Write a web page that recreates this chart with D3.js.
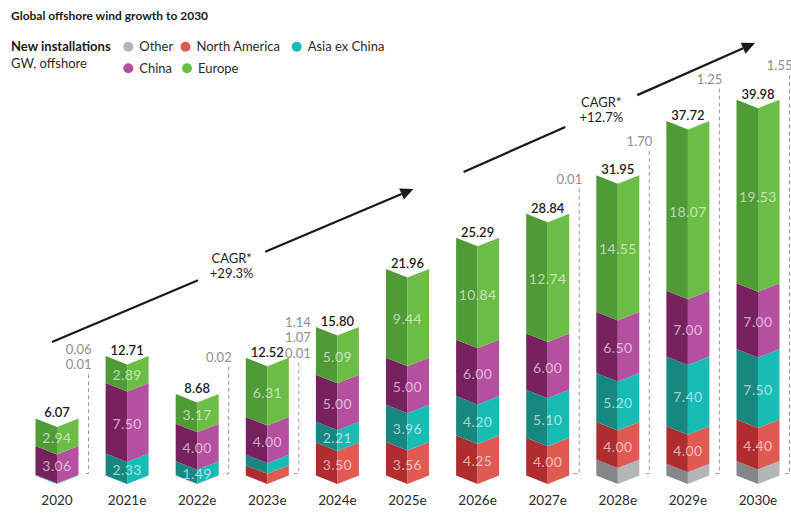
<!DOCTYPE html>
<html>
<head>
<meta charset="utf-8">
<script src="https://cdn.jsdelivr.net/npm/d3@7"></script>
<style>
  html, body { margin: 0; padding: 0; background: #ffffff; }
  svg { display: block; font-family: Lato, "Open Sans", sans-serif; }
</style>
</head>
<body>
<svg id="chart" width="791" height="513"></svg>
<script>
// New offshore wind installations, GW per year
const years = ["2020", "2021e", "2022e", "2023e", "2024e", "2025e", "2026e", "2027e", "2028e", "2029e", "2030e"];
const other        = [0,    0,    0,    0.01, 0,    0,    0,     0.01,  1.70,  1.25,  1.55];
const northAmerica = [0.01, 0,    0.02, 1.07, 3.50, 3.56, 4.25,  4.00,  4.00,  4.00,  4.40];
const asiaExChina  = [0.06, 2.33, 1.49, 1.14, 2.21, 3.96, 4.20,  5.10,  5.20,  7.40,  7.50];
const china        = [3.06, 7.50, 4.00, 4.00, 5.00, 5.00, 6.00,  6.00,  6.50,  7.00,  7.00];
const europe       = [2.94, 2.89, 3.17, 6.31, 5.09, 9.44, 10.84, 12.74, 14.55, 18.07, 19.53];
const totals       = [6.07, 12.71, 8.68, 12.52, 15.80, 21.96, 25.29, 28.84, 31.95, 37.72, 39.98];

// Stack order, bottom to top
const seriesNames = ["Other", "North America", "Asia ex China", "China", "Europe"];
const seriesValues = [other, northAmerica, asiaExChina, china, europe];
const lightColors = ["#b4b5b7", "#e05a53", "#17bcb5", "#b54f9f", "#6cbd45"];
const darkColors  = ["#858689", "#b02d2f", "#168880", "#78215f", "#4f9b36"];

// Growth annotations
const cagrLabels = [["CAGR*", "+29.3%"], ["CAGR*", "+12.7%"]];

// ---- layout ----
const svg = d3.select("#chart");
const x = d3.scalePoint().domain(years).range([57, 758]);
const y = d3.scaleLinear().domain([0, 40]).range([475.5, 99.5]);
const halfW = 21.5;      // half bar width
const dip = 8.5;         // chevron depth at bar centre
const inBarMin = 1.3;    // smaller segments get a side callout instead of an inside label

// Height (in GW) at which each side callout's lowest line sits, plus horizontal nudges
const calloutLevel = { "2020": 11.3, "2022e": 12.1, "2023e": 12.55, "2027e": 31.05, "2028e": 35.05, "2029e": 41.7, "2030e": 43.1 };
const calloutShift = { "2023e": 9 };

// Arrow anchors: [category, pixel nudge, GW level]
const arrows = [
  { from: ["2020", -5, 14.2],   to: ["2025e", 6, 30.48], gap: [0.404, 0.590], text: cagrLabels[0], dy: [-2.5, 12] },
  { from: ["2026e", -14, 32.29], to: ["2030e", -3, 46.01], gap: [0.349, 0.596], text: cagrLabels[1], dy: [-4, 10.5] }
];

// Build stacked rows
const rows = years.map((yr, i) => {
  let cum = 0;
  const segs = seriesValues.map((vals, k) => {
    const s = { key: seriesNames[k], k, v: vals[i], y0: cum, y1: cum + vals[i] };
    cum += vals[i];
    return s;
  });
  return { year: yr, i, segs, sum: cum, total: totals[i] };
});

const bars = svg.append("g").attr("class", "bars");

rows.forEach(r => {
  const xc = x(r.year), x0 = xc - halfW, x1 = xc + halfW;
  const g = bars.append("g");
  r.segs.filter(s => s.v > 0).forEach(s => {
    const yt = y(s.y1), yb = y(s.y0);
    // left (shaded) face
    g.append("path")
      .attr("d", `M${x0},${yt}L${xc},${yt + dip}L${xc},${yb + dip}L${x0},${yb}Z`)
      .attr("fill", darkColors[s.k]);
    // right (lit) face
    g.append("path")
      .attr("d", `M${xc},${yt + dip}L${x1},${yt}L${x1},${yb}L${xc},${yb + dip}Z`)
      .attr("fill", lightColors[s.k]);
    if (s.k > 0 && s.v >= inBarMin) {
      g.append("text")
        .attr("x", xc)
        .attr("y", (yt + yb) / 2 + dip * 0.7)
        .attr("dy", "0.35em")
        .attr("text-anchor", "middle")
        .attr("font-size", 14)
        .attr("letter-spacing", 0.4)
        .attr("fill", "#ffffff")
        .attr("fill-opacity", 0.62)
        .text(d3.format(".2f")(s.v));
    }
  });

  // total above the bar
  g.append("text")
    .attr("x", xc)
    .attr("y", y(r.sum) - 1)
    .attr("text-anchor", "middle")
    .attr("font-size", 13)
    .attr("font-weight", 600)
    .attr("fill", "#1c1c1c")
    .text(d3.format(".2f")(r.total));

  // side callout for the thin segments
  const small = r.segs.filter(s => s.v > 0 && (s.k === 0 || s.v < inBarMin)).reverse();
  if (small.length) {
    const dx = x1 + 10;
    const lastY = y(calloutLevel[r.year]);
    small.forEach((s, j) => {
      g.append("text")
        .attr("x", dx + 3 + (calloutShift[r.year] || 0))
        .attr("y", lastY - (small.length - 1 - j) * 15.5)
        .attr("text-anchor", "end")
        .attr("font-size", 13)
        .attr("fill", "#8e8e8e")
        .text(d3.format(".2f")(s.v));
    });
    g.append("path")
      .attr("d", `M${dx},${lastY + 5}V${y(0) - 2}H${dx - 6}`)
      .attr("fill", "none")
      .attr("stroke", "#9a9a9a")
      .attr("stroke-width", 1)
      .attr("stroke-dasharray", "4,3");
  }

  // category label
  g.append("text")
    .attr("x", xc)
    .attr("y", 505)
    .attr("text-anchor", "middle")
    .attr("font-size", 13.5)
    .attr("fill", "#2b2b2b")
    .text(r.year);
});

// CAGR arrows
const ann = svg.append("g").attr("class", "cagr");
arrows.forEach(a => {
  const ax = x(a.from[0]) + a.from[1], ay = y(a.from[2]);
  const bx = x(a.to[0]) + a.to[1], by = y(a.to[2]);
  const dx = bx - ax, dy = by - ay, len = Math.hypot(dx, dy);
  const ux = dx / len, uy = dy / len;
  const pt = t => [ax + dx * t, ay + dy * t];
  const g1 = pt(a.gap[0]), g2 = pt(a.gap[1]);
  const head = 13, hw = 6;
  const hb = [bx - ux * head, by - uy * head];
  ann.append("path")
    .attr("d", `M${ax},${ay}L${g1[0]},${g1[1]}M${g2[0]},${g2[1]}L${hb[0]},${hb[1]}`)
    .attr("stroke", "#1a1a1a").attr("stroke-width", 2.3).attr("fill", "none");
  ann.append("path")
    .attr("d", `M${bx},${by}L${hb[0] - uy * hw},${hb[1] + ux * hw}L${hb[0] + uy * hw},${hb[1] - ux * hw}Z`)
    .attr("fill", "#1a1a1a");
  const mid = pt((a.gap[0] + a.gap[1]) / 2);
  a.text.forEach((t, j) => {
    ann.append("text")
      .attr("x", mid[0]).attr("y", mid[1] + a.dy[j])
      .attr("text-anchor", "middle")
      .attr("font-size", 13)
      .attr("fill", "#1f1f1f")
      .text(t);
  });
});

// Title and legend
svg.append("text")
  .attr("x", 11).attr("y", 19.5)
  .attr("font-size", 12).attr("font-weight", 700).attr("fill", "#1a1a1a")
  .text("Global offshore wind growth to 2030");
svg.append("text")
  .attr("x", 11).attr("y", 50.5)
  .attr("font-size", 13).attr("font-weight", 700).attr("fill", "#1a1a1a")
  .text("New installations");
svg.append("text")
  .attr("x", 11).attr("y", 68)
  .attr("font-size", 13).attr("fill", "#2b2b2b")
  .text("GW, offshore");

const legendSpots = [
  { k: 0, cx: 128.3, cy: 46.7 },
  { k: 1, cx: 185.5, cy: 46.7 },
  { k: 2, cx: 296.7, cy: 46.7 },
  { k: 3, cx: 128.3, cy: 68.3 },
  { k: 4, cx: 187,   cy: 68.3 }
];
const legend = svg.append("g").attr("class", "legend");
legendSpots.forEach(p => {
  legend.append("circle")
    .attr("cx", p.cx).attr("cy", p.cy).attr("r", 5)
    .attr("fill", lightColors[p.k]);
  legend.append("text")
    .attr("x", p.cx + 11).attr("y", p.cy + 4.2)
    .attr("font-size", 13).attr("fill", "#2b2b2b")
    .text(seriesNames[p.k]);
});
</script>
</body>
</html>
